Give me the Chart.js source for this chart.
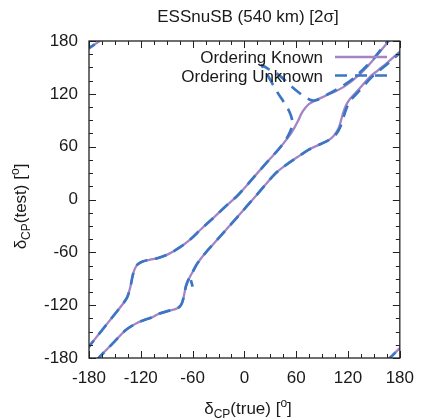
<!DOCTYPE html>
<html>
<head>
<meta charset="utf-8">
<script src="https://cdn.jsdelivr.net/npm/chart.js@4.4.0/dist/chart.umd.min.js"></script>
<style>
  html, body { margin: 0; padding: 0; background: #fff; }
  canvas { display: block; }
</style>
</head>
<body>
<canvas id="chart" width="424" height="418"></canvas>
<script>
// delta_CP(true) vs delta_CP(test) 2 sigma contours, degrees
const tickValues = [-180, -120, -60, 0, 60, 120, 180];
const minorStep = 15;

const knownUpper = [[-183, -171], [-180, -167], [-165, -148.5], [-150, -130], [-140, -117.5],
  [-135.5, -110.5], [-131.7, -97.5], [-129.3, -86], [-126.8, -78.5], [-123.5, -73.5], [-118, -70.5],
  [-110, -68.5], [-100, -66.5], [-88, -62], [-75, -54.5], [-64, -46.5], [-50, -33.5], [-35, -20],
  [-20.4, -6.5], [-9, 3.5], [0, 13], [17.3, 32.5], [30, 46.5], [40, 57.5], [51.3, 71.4], [57, 80],
  [62.6, 90.3], [66, 97.5], [70.2, 103.6], [75, 108.5], [81.5, 112.3], [90, 116], [100.4, 120.7],
  [108, 124], [115.5, 128.2], [125, 135], [138.2, 146.6], [150, 159.5], [164.6, 176.9], [170, 183]];

const knownLower = [[-172, -183.5], [-167.6, -178.6], [-152.5, -163.4], [-137.4, -148.3], [-125, -140.5],
  [-115, -136.5], [-107, -133.9], [-99.7, -130], [-88, -126.5], [-80, -124.5], [-76, -122.5],
  [-73, -119], [-71, -113.5], [-69.3, -105.5], [-67.6, -98], [-65.5, -92.5], [-63.5, -88.5],
  [-59.5, -81.5], [-54.4, -72.5], [-45, -60.5], [-33.6, -48], [-20, -33], [-10, -22], [2.3, -8.2],
  [15, 6], [25, 17.5], [36.2, 29.8], [50, 40.5], [62, 48.5], [74, 56.3], [85, 61.5], [95, 66],
  [100.4, 69.5], [104, 73], [107, 77], [109.9, 83], [112.5, 92], [115.5, 101.7], [119, 109.5],
  [123, 115], [132, 124.5], [145.7, 139.5], [155, 147], [165, 155], [180, 168], [185, 172]];

const knownWrapTL = [[-185, 168.5], [-180, 171.8], [-167.6, 180], [-163, 183]];
const knownWrapBR = [[165, -183], [168.4, -180], [179.7, -169], [185, -164]];

const unknownUpper = [[-183, -171], [-180, -167], [-165, -148.5], [-150, -130], [-140, -117.5],
  [-135.5, -110.5], [-131.7, -97.5], [-129.3, -86], [-126.8, -78.5], [-123.5, -73.5], [-118, -70.5],
  [-110, -68.5], [-100, -66.5], [-88, -62], [-75, -54.5], [-64, -46.5], [-50, -33.5], [-35, -20],
  [-20.4, -6.5], [-9, 3.5], [0, 13], [17.3, 32.5], [30, 46.5], [40, 57.5], [46, 65], [51, 73],
  [54.5, 81], [55.5, 88], [54, 95], [50.5, 103], [45, 111.5], [39, 120.5], [33, 130.5], [27, 141],
  [21.5, 150], [20, 152.5], [23, 151], [29, 147.5], [37, 143.5], [44, 138], [50, 132.5], [55, 128],
  [63, 121.5], [71, 116], [78, 112.6], [84, 113], [90, 116.3], [100, 121.2], [113, 128.5],
  [125, 136.5], [137.5, 147.8], [150, 160.5], [164, 177.5], [169, 183.5]];

const unknownLower = [[-172, -183.5], [-167.6, -178.6], [-152.5, -163.4], [-137.4, -148.3], [-125, -140.5],
  [-115, -136.5], [-107, -133.9], [-99.7, -130], [-88, -126.5], [-80, -124.5], [-76, -122.5],
  [-73, -119], [-71, -113.5], [-69.3, -105.5], [-67.6, -98], [-65.5, -92.5], [-63.5, -88.5],
  [-59.5, -81.5], [-54.4, -72.5], [-45, -60.5], [-33.6, -48], [-20, -33], [-10, -22], [2.3, -8.2],
  [15, 6], [25, 17.5], [36.2, 29.8], [50, 40.5], [62, 48.5], [74, 56.3], [85, 61.5], [95, 66],
  [100.8, 69.5], [105, 73], [108.5, 77.5], [111.5, 83.5], [114.5, 92.5], [117.5, 101.7], [121, 109.5],
  [125, 115], [134, 124.5], [148, 139.5], [157, 147], [167, 155], [181.5, 167.5], [186.5, 171.5]];

const unknownBlip = [[-62, -91.5], [-60, -99]];
const unknownWrapTL = [[-185, 168.5], [-180, 171.8], [-167.6, 180], [-163, 183]];
const unknownWrapBR = [[165, -183], [168.4, -180], [179.7, -169], [185, -164]];

const PURPLE = '#a384c4';
const BLUE = '#3a76c4';
const DASH = [12, 8];
const FONT = '"Liberation Sans", Arial, Helvetica, sans-serif';
const INK = '#1a1a1a';

const pts = a => a.map(([x, y]) => ({ x, y }));
const known = d => ({ data: pts(d), borderColor: PURPLE, borderWidth: 2.3, order: 2 });
const unknown = d => ({ data: pts(d), borderColor: BLUE, borderWidth: 2.7, borderDash: DASH, order: 1 });

// draws frame, inward ticks, legend, title and axis titles (with sub/superscripts)
const decorations = {
  id: 'decorations',
  afterDatasetsDraw(chart) {
    const { ctx, chartArea: a, scales: { x, y } } = chart;
    ctx.save();
    ctx.strokeStyle = '#222';
    ctx.lineWidth = 1.3;
    ctx.setLineDash([]);
    ctx.strokeRect(a.left, a.top, a.right - a.left, a.bottom - a.top);

    ctx.lineWidth = 1;
    ctx.beginPath();
    for (let v = -180; v <= 180; v += minorStep) {
      const len = v % 60 === 0 ? 7 : 4;
      const px = Math.round(x.getPixelForValue(v)) + 0.5;
      const py = Math.round(y.getPixelForValue(v)) + 0.5;
      ctx.moveTo(px, a.bottom); ctx.lineTo(px, a.bottom - len);
      ctx.moveTo(px, a.top); ctx.lineTo(px, a.top + len);
      ctx.moveTo(a.left, py); ctx.lineTo(a.left + len, py);
      ctx.moveTo(a.right, py); ctx.lineTo(a.right - len, py);
    }
    ctx.stroke();

    // legend
    ctx.fillStyle = INK;
    ctx.font = '17px ' + FONT;
    ctx.textAlign = 'right';
    ctx.textBaseline = 'alphabetic';
    ctx.fillText('Ordering Known', 323, 63);
    ctx.fillText('Ordering Unknown', 323, 81.5);
    ctx.lineWidth = 2.3;
    ctx.strokeStyle = PURPLE;
    ctx.beginPath(); ctx.moveTo(335, 57); ctx.lineTo(387, 57); ctx.stroke();
    ctx.lineWidth = 2.7;
    ctx.strokeStyle = BLUE;
    ctx.setLineDash(DASH);
    ctx.beginPath(); ctx.moveTo(335, 75.5); ctx.lineTo(387, 75.5); ctx.stroke();
    ctx.setLineDash([]);

    // title
    ctx.textAlign = 'center';
    ctx.fillText('ESSnuSB (540 km) [2σ]', 248, 21.5);

    // axis titles: δ_CP(...) [°]
    const parts = label => [
      { t: 'δ', f: 17, dy: 0 },
      { t: 'CP', f: 12, dy: 4 },
      { t: '(' + label + ') [', f: 17, dy: 0 },
      { t: 'o', f: 12, dy: -7 },
      { t: ']', f: 17, dy: 0 }
    ];
    const drawRich = (list, cx) => {
      let w = 0;
      list.forEach(p => { ctx.font = p.f + 'px ' + FONT; p.w = ctx.measureText(p.t).width; w += p.w; });
      let pos = cx - w / 2;
      ctx.textAlign = 'left';
      list.forEach(p => { ctx.font = p.f + 'px ' + FONT; ctx.fillText(p.t, pos, p.dy); pos += p.w; });
    };
    ctx.save();
    ctx.translate(0, 413.5);
    drawRich(parts('true'), 248);
    ctx.restore();
    ctx.save();
    ctx.translate(26, 206.5);
    ctx.rotate(-Math.PI / 2);
    drawRich(parts('test'), 0);
    ctx.restore();
    ctx.restore();
  }
};

const axis = (fit, pad) => ({
  type: 'linear',
  min: -180,
  max: 180,
  grid: { display: false, drawTicks: false },
  border: { display: false },
  ticks: { color: INK, font: { family: FONT, size: 17 }, padding: pad },
  afterBuildTicks: s => { s.ticks = tickValues.map(v => ({ value: v })); },
  afterFit: fit
});

new Chart(document.getElementById('chart'), {
  type: 'scatter',
  data: {
    datasets: [
      known(knownUpper), known(knownLower), known(knownWrapTL), known(knownWrapBR),
      unknown(unknownUpper), unknown(unknownLower), unknown(unknownBlip),
      unknown(unknownWrapTL), unknown(unknownWrapBR)
    ].map(d => Object.assign(d, { showLine: true, fill: false, tension: 0.35, pointRadius: 0 }))
  },
  options: {
    responsive: false,
    animation: false,
    devicePixelRatio: 1,
    layout: { padding: { left: 0, right: 17, top: 41, bottom: 0 } },
    plugins: { legend: { display: false }, tooltip: { enabled: false }, title: { display: false } },
    scales: {
      x: axis(s => { s.height = 60; }, 10),
      y: axis(s => { s.width = 89; }, 11)
    }
  },
  plugins: [decorations]
});
</script>
</body>
</html>
